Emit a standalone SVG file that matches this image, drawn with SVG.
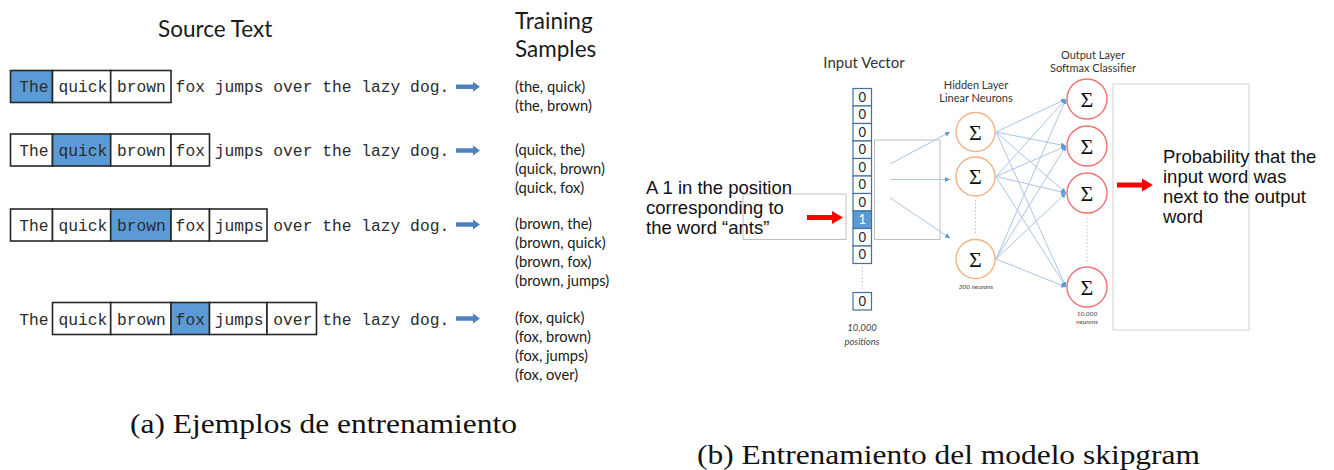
<svg xmlns="http://www.w3.org/2000/svg" width="1334" height="470" viewBox="0 0 1334 470">
  <style>
    .bg { fill: #ffffff; }
    .mono { font-family: "Liberation Mono", "Courier New", monospace; font-size: 16.3px; fill: #2b2b2b; }
    .cell { fill: #ffffff; stroke: #262626; stroke-width: 1.6; }
    .cell.on { fill: #5b9bd5; }
    .head { font-family: Lato, "Open Sans", sans-serif; font-size: 22.5px; fill: #1a1a1a; }
    .sample { font-family: Lato, "Open Sans", sans-serif; font-size: 14.7px; fill: #1a1a1a; }
    .caption { font-family: "Liberation Serif", "DejaVu Serif", serif; font-size: 28px; fill: #111111; }
    .label { font-family: Lato, "Open Sans", sans-serif; font-size: 11px; fill: #333333; text-anchor: middle; }
    .tiny { font-family: Lato, "Open Sans", sans-serif; font-style: italic; font-size: 6.5px; fill: #444444; text-anchor: middle; }
    .note { font-family: "Liberation Sans", Arial, sans-serif; font-size: 18.5px; fill: #111111; }
    .vcell { fill: #ffffff; stroke: #41719c; stroke-width: 1.2; }
    .vcell.on { fill: #5b9bd5; }
    .vnum { font-family: Lato, "Open Sans", sans-serif; font-size: 13px; fill: #222222; text-anchor: middle; }
    .vnum.on { fill: #ffffff; }
    .hidden { fill: #ffffff; stroke: #f4b183; stroke-width: 1.4; }
    .output { fill: #ffffff; stroke: #f07070; stroke-width: 1.4; }
    .sigma { font-family: "Liberation Serif", "DejaVu Serif", serif; font-size: 22px; fill: #111111; text-anchor: middle; }
    .frame { fill: none; stroke: #bfbfbf; stroke-width: 1; }
    .wire { stroke: #a9c6e8; stroke-width: 1; fill: none; }
    .dots { stroke: #a9c6e8; stroke-width: 1; stroke-dasharray: 1.5 2; fill: none; }
    .blue-arrow { fill: #4f81bd; }
    .red-arrow { fill: #ff0000; }
  </style>
  <defs>
    <marker id="tip" viewBox="0 0 6 6" refX="6" refY="3" markerWidth="5" markerHeight="5" markerUnits="userSpaceOnUse" orient="auto">
      <path d="M0,0 L6,3 L0,6 Z" fill="#5b9bd5"/>
    </marker>
    <!-- small block arrow pointing right, origin at its left-middle -->
    <path id="blockArrow" d="M0,-2.2 H17 V-5 L24,0 L17,5 V2.2 H0 Z"/>
    <path id="redArrow" d="M0,-2.5 H25 V-6.5 L36,0 L25,6.5 V2.5 H0 Z"/>
  </defs>

  <rect class="bg" x="0" y="0" width="1334" height="470"/>

  <!-- ===== (a) training samples ===== -->
  <g id="heading-source">
    <text class="head" x="158" y="37">Source Text</text>
  </g>
  <g id="heading-samples">
    <text class="head" x="515" y="29">Training</text>
    <text class="head" x="515" y="57">Samples</text>
  </g>

  <g id="row-the">
    <rect class="cell on" x="10.5" y="70.5" width="42" height="32"/>
    <rect class="cell" x="52.5" y="70.5" width="58.2" height="32"/>
    <rect class="cell" x="110.7" y="70.5" width="60.3" height="32"/>
    <text class="mono" x="19.3" y="92">The quick brown fox jumps over the lazy dog.</text>
  </g>
  <g id="row-quick">
    <rect class="cell" x="10.5" y="134" width="42" height="32"/>
    <rect class="cell on" x="52.5" y="134" width="58.2" height="32"/>
    <rect class="cell" x="110.7" y="134" width="60.3" height="32"/>
    <rect class="cell" x="171" y="134" width="38.5" height="32"/>
    <text class="mono" x="19.3" y="156">The quick brown fox jumps over the lazy dog.</text>
  </g>
  <g id="row-brown">
    <rect class="cell" x="10.5" y="209" width="42" height="32"/>
    <rect class="cell" x="52.5" y="209" width="58.2" height="32"/>
    <rect class="cell on" x="110.7" y="209" width="60.3" height="32"/>
    <rect class="cell" x="171" y="209" width="38.5" height="32"/>
    <rect class="cell" x="209.5" y="209" width="57.5" height="32"/>
    <text class="mono" x="19.3" y="231">The quick brown fox jumps over the lazy dog.</text>
  </g>
  <g id="row-fox">
    <rect class="cell" x="52.5" y="302.5" width="58.2" height="32"/>
    <rect class="cell" x="110.7" y="302.5" width="60.3" height="32"/>
    <rect class="cell on" x="171" y="302.5" width="38.5" height="32"/>
    <rect class="cell" x="209.5" y="302.5" width="57.5" height="32"/>
    <rect class="cell" x="267" y="302.5" width="49.5" height="32"/>
    <text class="mono" x="19.3" y="324.5">The quick brown fox jumps over the lazy dog.</text>
  </g>

  <g id="samples-the">
    <text class="sample" x="515" y="92">(the, quick)</text>
    <text class="sample" x="515" y="111">(the, brown)</text>
  </g>
  <g id="samples-quick">
    <text class="sample" x="515" y="155">(quick, the)</text>
    <text class="sample" x="515" y="174">(quick, brown)</text>
    <text class="sample" x="515" y="193">(quick, fox)</text>
  </g>
  <g id="samples-brown">
    <text class="sample" x="515" y="229">(brown, the)</text>
    <text class="sample" x="515" y="248">(brown, quick)</text>
    <text class="sample" x="515" y="267">(brown, fox)</text>
    <text class="sample" x="515" y="286">(brown, jumps)</text>
  </g>
  <g id="samples-fox">
    <text class="sample" x="515" y="323">(fox, quick)</text>
    <text class="sample" x="515" y="342">(fox, brown)</text>
    <text class="sample" x="515" y="361">(fox, jumps)</text>
    <text class="sample" x="515" y="380">(fox, over)</text>
  </g>

  <g id="caption-a">
    <text class="caption" x="130" y="433" textLength="387" lengthAdjust="spacingAndGlyphs">(a) Ejemplos de entrenamiento</text>
  </g>

  <!-- ===== (b) skip-gram network ===== -->
  <g id="input-label">
    <text class="label" x="864" y="68" style="font-size:15px">Input Vector</text>
  </g>

  <g id="input-vector">
    <rect class="vcell" x="853" y="88.5" width="18.5" height="17.5"/>
    <rect class="vcell" x="853" y="106" width="18.5" height="17.5"/>
    <rect class="vcell" x="853" y="123.5" width="18.5" height="17.5"/>
    <rect class="vcell" x="853" y="141" width="18.5" height="17.5"/>
    <rect class="vcell" x="853" y="158.5" width="18.5" height="17.5"/>
    <rect class="vcell" x="853" y="176" width="18.5" height="17.5"/>
    <rect class="vcell" x="853" y="193.5" width="18.5" height="17.5"/>
    <rect class="vcell on" x="853" y="211" width="18.5" height="17.5"/>
    <rect class="vcell" x="853" y="228.5" width="18.5" height="17.5"/>
    <rect class="vcell" x="853" y="246" width="18.5" height="17.5"/>
    <rect class="vcell" x="853" y="292.5" width="18.5" height="17.5"/>
    <text class="vnum" x="862.3" y="101.8">0</text>
    <text class="vnum" x="862.3" y="119.3">0</text>
    <text class="vnum" x="862.3" y="136.8">0</text>
    <text class="vnum" x="862.3" y="154.3">0</text>
    <text class="vnum" x="862.3" y="171.8">0</text>
    <text class="vnum" x="862.3" y="189.3">0</text>
    <text class="vnum" x="862.3" y="206.8">0</text>
    <text class="vnum on" x="862.3" y="224.3">1</text>
    <text class="vnum" x="862.3" y="241.8">0</text>
    <text class="vnum" x="862.3" y="259.3">0</text>
    <text class="vnum" x="862.3" y="305.8">0</text>
    <text class="tiny" x="862" y="331" style="font-size:9.5px">10,000</text>
    <text class="tiny" x="862" y="345" style="font-size:9.5px">positions</text>
  </g>

  <g id="input-note">
    <rect class="frame" x="743" y="194" width="103" height="45.5"/>
    <text class="note" x="646" y="194">A 1 in the position</text>
    <text class="note" x="646" y="214">corresponding to</text>
    <text class="note" x="646" y="234">the word “ants”</text>
  </g>

  <g id="weights-frame">
    <rect class="frame" x="874.5" y="140" width="65.5" height="99.5"/>
  </g>

  <g id="hidden-label">
    <text class="label" x="976" y="89">Hidden Layer</text>
    <text class="label" x="976" y="102">Linear Neurons</text>
  </g>
  <g id="hidden-1">
    <circle class="hidden" cx="975.5" cy="132" r="19.5"/>
    <text class="sigma" x="975.5" y="139.5">Σ</text>
  </g>
  <g id="hidden-2">
    <circle class="hidden" cx="975.5" cy="176.5" r="19.5"/>
    <text class="sigma" x="975.5" y="184">Σ</text>
  </g>
  <g id="hidden-3">
    <circle class="hidden" cx="975.5" cy="259" r="19.5"/>
    <text class="sigma" x="975.5" y="266.5">Σ</text>
    <text class="tiny" x="976" y="289">300 neurons</text>
  </g>

  <g id="output-label">
    <text class="label" x="1093" y="59">Output Layer</text>
    <text class="label" x="1093" y="72">Softmax Classifier</text>
  </g>
  <g id="output-1">
    <circle class="output" cx="1087" cy="99" r="20"/>
    <text class="sigma" x="1087" y="106.5">Σ</text>
  </g>
  <g id="output-2">
    <circle class="output" cx="1087" cy="146" r="20"/>
    <text class="sigma" x="1087" y="153.5">Σ</text>
  </g>
  <g id="output-3">
    <circle class="output" cx="1087" cy="193" r="20"/>
    <text class="sigma" x="1087" y="200.5">Σ</text>
  </g>
  <g id="output-4">
    <circle class="output" cx="1087" cy="287" r="20"/>
    <text class="sigma" x="1087" y="294.5">Σ</text>
    <text class="tiny" x="1087" y="316">10,000</text>
    <text class="tiny" x="1087" y="324">neurons</text>
  </g>

  <g id="result-note">
    <rect class="frame" x="1113" y="84" width="136" height="246" style="stroke:#d0d0d0"/>
    <text class="note" x="1163" y="163">Probability that the</text>
    <text class="note" x="1163" y="183">input word was</text>
    <text class="note" x="1163" y="203">next to the output</text>
    <text class="note" x="1163" y="223">word</text>
  </g>

  <g id="caption-b">
    <text class="caption" x="697" y="464" textLength="503" lengthAdjust="spacingAndGlyphs">(b) Entrenamiento del modelo skipgram</text>
  </g>

  <!-- connectors -->
  <g id="connectors">
    <!-- sentence to samples -->
    <use href="#blockArrow" class="blue-arrow" x="456" y="86.7"/>
    <use href="#blockArrow" class="blue-arrow" x="456" y="150.5"/>
    <use href="#blockArrow" class="blue-arrow" x="456" y="224.5"/>
    <use href="#blockArrow" class="blue-arrow" x="456" y="318.5"/>

    <!-- one-hot pointer and result pointer -->
    <use href="#redArrow" class="red-arrow" x="807" y="217.5"/>
    <use href="#redArrow" class="red-arrow" x="1117" y="185"/>

    <!-- ellipsis guides -->
    <line class="dots" x1="862.3" y1="267" x2="862.3" y2="289"/>
    <line class="dots" x1="975.5" y1="200" x2="975.5" y2="235"/>
    <line class="dots" x1="1087" y1="218" x2="1087" y2="262"/>

    <!-- input to hidden -->
    <line class="wire" x1="890" y1="164" x2="950" y2="132" marker-end="url(#tip)"/>
    <line class="wire" x1="890" y1="179.5" x2="950" y2="179.5" marker-end="url(#tip)"/>
    <line class="wire" x1="890" y1="198" x2="950" y2="238" marker-end="url(#tip)"/>

    <!-- hidden to output, fully connected -->
    <line class="wire" x1="996" y1="132" x2="1066" y2="99" marker-end="url(#tip)"/>
    <line class="wire" x1="996" y1="132" x2="1066" y2="146" marker-end="url(#tip)"/>
    <line class="wire" x1="996" y1="132" x2="1066" y2="193" marker-end="url(#tip)"/>
    <line class="wire" x1="996" y1="132" x2="1066" y2="287" marker-end="url(#tip)"/>
    <line class="wire" x1="996" y1="176.5" x2="1066" y2="99" marker-end="url(#tip)"/>
    <line class="wire" x1="996" y1="176.5" x2="1066" y2="146" marker-end="url(#tip)"/>
    <line class="wire" x1="996" y1="176.5" x2="1066" y2="193" marker-end="url(#tip)"/>
    <line class="wire" x1="996" y1="176.5" x2="1066" y2="287" marker-end="url(#tip)"/>
    <line class="wire" x1="996" y1="259" x2="1066" y2="99" marker-end="url(#tip)"/>
    <line class="wire" x1="996" y1="259" x2="1066" y2="146" marker-end="url(#tip)"/>
    <line class="wire" x1="996" y1="259" x2="1066" y2="193" marker-end="url(#tip)"/>
    <line class="wire" x1="996" y1="259" x2="1066" y2="287" marker-end="url(#tip)"/>
  </g>
</svg>
